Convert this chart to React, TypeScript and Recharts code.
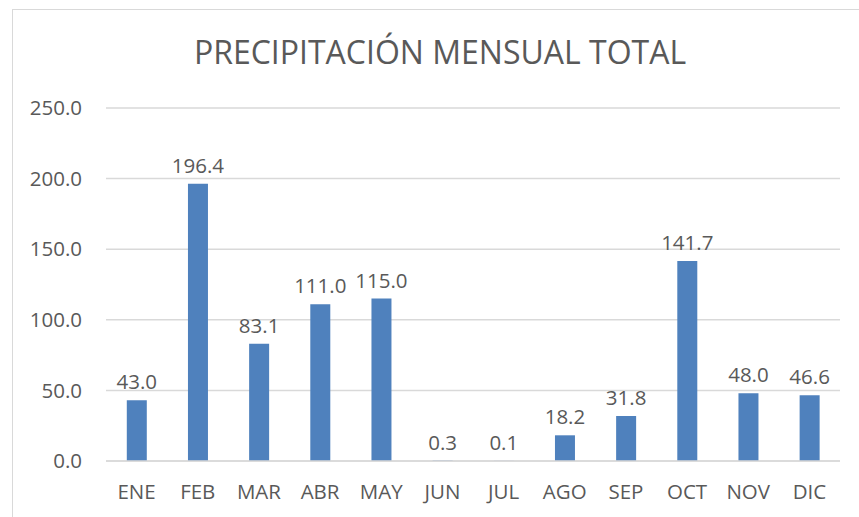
import { BarChart, Bar, XAxis, YAxis, CartesianGrid, LabelList } from 'recharts'

const months = ['ENE', 'FEB', 'MAR', 'ABR', 'MAY', 'JUN', 'JUL', 'AGO', 'SEP', 'OCT', 'NOV', 'DIC']
const rainfall = [43.0, 196.4, 83.1, 111.0, 115.0, 0.3, 0.1, 18.2, 31.8, 141.7, 48.0, 46.6]
const yTicks = [0, 50, 100, 150, 200, 250]

const data = months.map((month, i) => ({ month, value: rainfall[i] }))

const FONT = '"Open Sans", sans-serif'
const TEXT = '#595959'

export default function App() {
  return (
    <div style={{ position: 'fixed', left: 0, top: 0, width: 859, height: 517, background: '#fff', overflow: 'hidden' }}>
      <div
        style={{
          position: 'absolute',
          left: 12,
          top: 9,
          width: 870,
          height: 540,
          border: '1px solid #d9d9d9',
          boxSizing: 'border-box',
        }}
      />
      <div
        style={{
          position: 'absolute',
          left: 12,
          width: 856,
          top: 30,
          textAlign: 'center',
          fontFamily: FONT,
          fontSize: 32,
          color: TEXT,
          lineHeight: '44px',
        }}
      >
        PRECIPITACIÓN MENSUAL TOTAL
      </div>
      <div style={{ position: 'absolute', left: 0, top: 0 }}>
        <BarChart
          width={859}
          height={517}
          data={data}
          margin={{ top: 108, right: 19, bottom: 0, left: 0 }}
          barCategoryGap="34%"
        >
          <CartesianGrid vertical={false} stroke="#d9d9d9" strokeWidth={1.5} />
          <XAxis
            dataKey="month"
            height={56}
            axisLine={{ stroke: '#d9d9d9', strokeWidth: 1.5 }}
            tickLine={false}
            tickSize={0}
            tickMargin={23}
            tick={{ fontSize: 20.5, fill: TEXT, fontFamily: FONT }}
          />
          <YAxis
            width={106}
            domain={[0, 250]}
            ticks={yTicks}
            axisLine={false}
            tickLine={false}
            tickSize={0}
            tickMargin={24}
            tickFormatter={(v: number) => v.toFixed(1)}
            tick={{ fontSize: 20.5, fill: TEXT, fontFamily: FONT }}
          />
          <Bar dataKey="value" fill="#4f81bd" isAnimationActive={false}>
            <LabelList
              dataKey="value"
              position="top"
              offset={11}
              formatter={(v: number) => v.toFixed(1)}
              style={{ fontSize: 20.5, fill: TEXT, fontFamily: FONT }}
            />
          </Bar>
        </BarChart>
      </div>
    </div>
  )
}
